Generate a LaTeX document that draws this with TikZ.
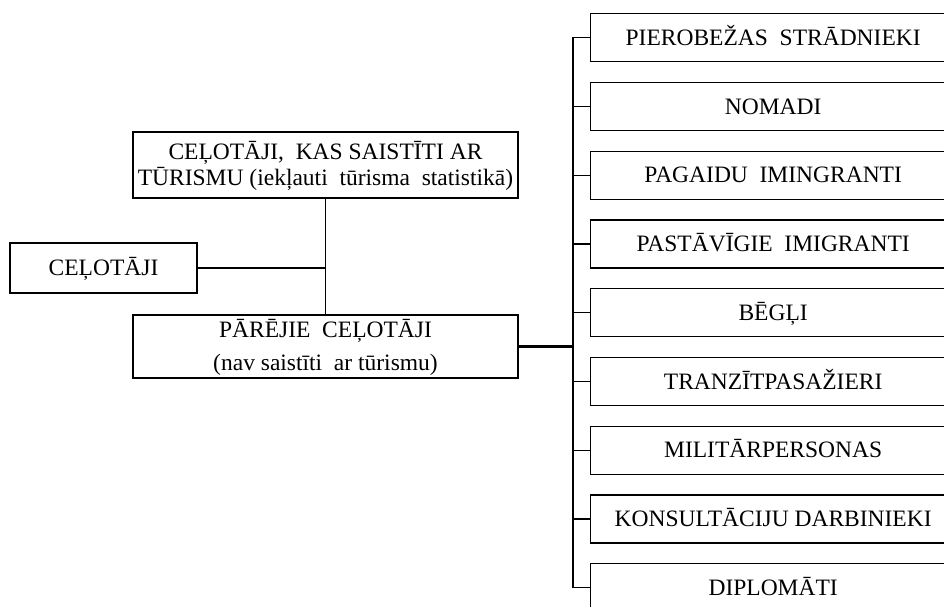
\documentclass[tikz,border=0pt]{standalone}
\usepackage{fontspec}
\setmainfont{Liberation Serif}
\begin{document}
\begin{tikzpicture}[x=1pt,y=-1pt,
  box/.style={draw,line width=1.3pt,inner sep=0pt,align=center,text height=15.5pt,text depth=0pt,font=\fontsize{23.5}{26}\selectfont},
  rbox/.style={box,anchor=north west,minimum width=365pt,minimum height=48pt},
  link/.style={line width=1.3pt},
  thick link/.style={line width=2.4pt}]
\useasboundingbox (0,0) rectangle (944,606);
\clip (0,0) rectangle (944,606);
\node[box,minimum width=187pt,minimum height=50pt] (cel) at (103.5,268) {CEĻOTĀJI};
\node[box,minimum width=385pt,minimum height=66pt,text height=41.5pt] (tur) at (325.5,165) {CEĻOTĀJI,\ \ KAS SAISTĪTI AR\\TŪRISMU (iekļauti\ \ tūrisma\ \ statistikā)};
\node[box,minimum width=385pt,minimum height=63pt,text height=48.5pt,font=\fontsize{23.5}{33}\selectfont] (par) at (325.5,346.5) {PĀRĒJIE\ \ CEĻOTĀJI\\(nav saistīti\ \ ar tūrismu)};
\foreach \i/\t in {1/{PIEROBEŽAS\ \ STRĀDNIEKI},2/NOMADI,3/{PAGAIDU\ \ IMINGRANTI},4/{PASTĀVĪGIE\ \ IMIGRANTI},5/BĒGĻI,6/TRANZĪTPASAŽIERI,7/MILITĀRPERSONAS,8/KONSULTĀCIJU DARBINIEKI,9/DIPLOMĀTI}
  \node[rbox] (r\i) at (590,{13+68.75*(\i-1)}) {\t};
\coordinate (tk) at (573,347);
\draw[link] (tur.south) -- (par.north);
\draw[thick link] (cel.east) -- (cel.east -| tur.south);
\draw[thick link] (par.east) -- (par.east -| tk);
\draw[link] (r1.west) -- (r1.west -| tk) -- (r9.west -| tk) -- (r9.west);
\foreach \i in {2,...,8} \draw[link] (r\i.west) -- (r\i.west -| tk);
\end{tikzpicture}
\end{document}
